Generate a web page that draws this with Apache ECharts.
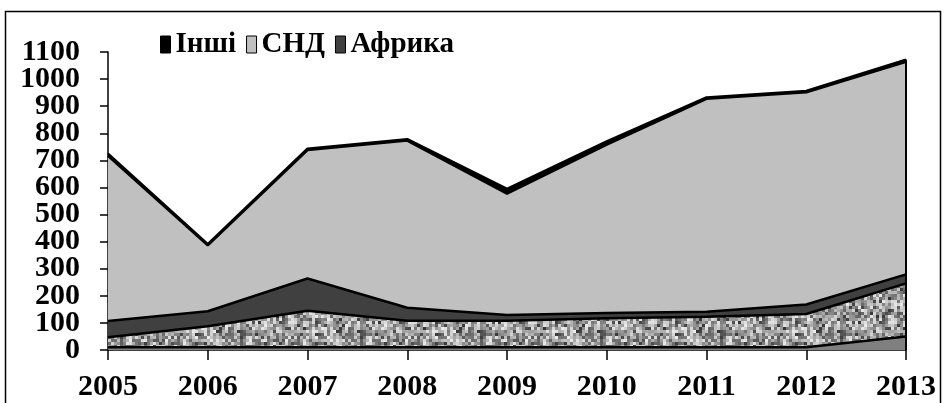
<!DOCTYPE html>
<html>
<head>
<meta charset="utf-8">
<script src="https://cdn.jsdelivr.net/npm/echarts@6/dist/echarts.min.js"></script>
<style>
  html, body { margin: 0; padding: 0; background: #fff; }
  #chart { width: 946px; height: 403px; }
</style>
</head>
<body>
<div id="chart"></div>
<script>
"use strict";
// роки
var years = ['2005', '2006', '2007', '2008', '2009', '2010', '2011', '2012', '2013'];
// шари знизу вгору
var row1 = [10, 10, 10, 10, 10, 10, 10, 10, 50];
var row2 = [37, 78, 135, 98, 98, 107, 113, 123, 196];
var afryka = [60, 55, 119, 48, 21, 20, 18, 35, 33];
var snd = [610, 243, 474, 617, 448, 621, 786, 783, 785];
var inshi = [8, 5, 5, 5, 18, 12, 5, 5, 8];
var yTicks = [0, 1100, 100];

var FONT = 'Liberation Serif';
var labelFont = { color: '#000', fontFamily: FONT, fontWeight: 'bold', fontSize: 30 };

// speckled texture for the second layer
function makeNoise() {
    var c = document.createElement('canvas');
    c.width = 120; c.height = 120;
    var ctx = c.getContext('2d');
    var seed = 12345;
    function rnd() {
        seed = (seed * 16807) % 2147483647;
        return seed / 2147483647;
    }
    for (var y = 0; y < 120; y += 3) {
        for (var x = 0; x < 120; x += 3) {
            var g = Math.round(90 + 145 * rnd());
            if (rnd() < 0.1) g = 50 + Math.round(rnd() * 40);
            ctx.fillStyle = 'rgb(' + g + ',' + g + ',' + g + ')';
            ctx.fillRect(x, y, 3, 3);
        }
    }
    return c;
}

var lastTotal = row1[8] + row2[8] + afryka[8] + snd[8] + inshi[8];

function layer(name, data, fill) {
    return {
        name: name,
        type: 'line',
        stack: 'all',
        data: data,
        symbol: 'none',
        lineStyle: { color: '#000', width: 2.5 },
        itemStyle: { color: '#000' },
        areaStyle: { color: fill, opacity: 1 },
        emphasis: { disabled: true },
        animation: false
    };
}

var series = [
    layer('Ряд1', row1, '#808080'),
    layer('Ряд2', row2, { image: makeNoise(), repeat: 'repeat' }),
    layer('Африка', afryka, '#404040'),
    layer('СНД', snd, '#c0c0c0'),
    layer('Інші', inshi, '#000')
];
series[4].markLine = {
    silent: true,
    symbol: 'none',
    animation: false,
    label: { show: false },
    lineStyle: { color: '#000', width: 2, type: 'solid' },
    data: [[{ coord: [years[8], 0] }, { coord: [years[8], lastTotal] }]]
};

// two stacked copies of the y axis, so that the end labels are not dropped
function yAxisDef(showEnds) {
    return {
        type: 'value',
        position: 'left',
        min: yTicks[0],
        max: yTicks[1],
        interval: yTicks[2],
        axisLine: { show: !showEnds, lineStyle: { color: '#000', width: 1.5 } },
        axisTick: { show: !showEnds, length: 8, lineStyle: { color: '#000', width: 1.5 } },
        axisLabel: Object.assign({
            margin: 28,
            showMinLabel: true,
            showMaxLabel: true,
            formatter: function (v) {
                var isEnd = (v === yTicks[0] || v === yTicks[1]);
                return isEnd === showEnds ? String(v) : '';
            }
        }, labelFont),
        splitLine: { show: false }
    };
}

var chart = echarts.init(document.getElementById('chart'));
chart.setOption({
    backgroundColor: '#fff',
    animation: false,
    graphic: [{
        type: 'rect',
        shape: { x: 5.5, y: 11.5, width: 935, height: 420 },
        style: { fill: 'none', stroke: '#000', lineWidth: 1.5 },
        silent: true
    }],
    legend: {
        left: 155,
        top: 25,
        itemWidth: 10,
        itemHeight: 17,
        itemGap: 10,
        icon: 'rect',
        textStyle: { fontFamily: FONT, fontWeight: 'bold', fontSize: 29, color: '#000' },
        data: [
            { name: 'Інші', itemStyle: { color: '#000', borderColor: '#000', borderWidth: 1 } },
            { name: 'СНД', itemStyle: { color: '#c0c0c0', borderColor: '#000', borderWidth: 1 } },
            { name: 'Африка', itemStyle: { color: '#404040', borderColor: '#000', borderWidth: 1 } }
        ],
        selectedMode: false
    },
    grid: { left: 108, right: 40, top: 52, bottom: 53, containLabel: false },
    xAxis: {
        type: 'category',
        data: years,
        boundaryGap: false,
        axisLine: { lineStyle: { color: '#000', width: 1.5 } },
        axisTick: { length: 10, lineStyle: { color: '#000', width: 1.5 }, interval: 0 },
        axisLabel: Object.assign({ interval: 0, margin: 22 }, labelFont),
        splitLine: { show: false }
    },
    yAxis: [yAxisDef(false), yAxisDef(true)],
    series: series
});
</script>
</body>
</html>
